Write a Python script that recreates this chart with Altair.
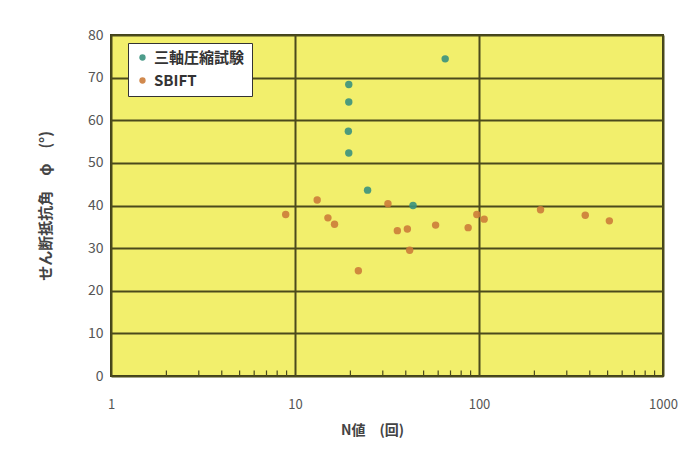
import altair as alt
import pandas as pd

# Triaxial compression test (三軸圧縮試験)
tri_n = [19.6, 19.6, 19.5, 19.6, 24.8, 43.8, 65.5]
tri_phi = [68.4, 64.3, 57.4, 52.3, 43.6, 40.0, 74.4]

# SBIFT
sb_n = [8.9, 13.2, 15.1, 16.4, 22.1, 32.0, 36.0, 40.8, 42.0, 58.1, 87.3, 97.3, 106.7, 216, 378, 511]
sb_phi = [37.9, 41.3, 37.1, 35.6, 24.7, 40.4, 34.1, 34.5, 29.5, 35.4, 34.8, 37.9, 36.8, 39.0, 37.7, 36.4]

series = ["三軸圧縮試験", "SBIFT"]
colors = ["#3a917e", "#cc7c3a"]

x_ticks = [1, 10, 100, 1000]
y_ticks = [0, 10, 20, 30, 40, 50, 60, 70, 80]
minor_ticks = [m * d for d in [1, 10, 100] for m in range(2, 10)]

df = pd.DataFrame({
    "N": tri_n + sb_n,
    "phi": tri_phi + sb_phi,
    "series": [series[0]] * len(tri_n) + [series[1]] * len(sb_n),
})
minor_df = pd.DataFrame({"N": minor_ticks, "y0": 0, "y1": 1.3})

font = "Noto Sans CJK JP"

xscale = alt.Scale(type="log", domain=[1, 1000], nice=False)
yscale = alt.Scale(domain=[0, 80], nice=False)

points = alt.Chart(df).mark_point(filled=True, size=55, opacity=0.9).encode(
    x=alt.X("N:Q", scale=xscale,
            axis=alt.Axis(values=x_ticks, format="d", title="N値　(回)", grid=True,
                          gridColor="#4b4a1c", gridWidth=2, gridOpacity=1,
                          domain=False, ticks=False, labelPadding=22,
                          labelFlush=False,
                          labelFontSize=13, labelColor="#555555",
                          titleFontSize=14, titleColor="#444444", titlePadding=12,
                          titleX=261, titleAnchor="start", titleAlign="center",
                          titleFontWeight="bold", labelFont=font, titleFont=font)),
    y=alt.Y("phi:Q", scale=yscale,
            axis=alt.Axis(values=y_ticks, title="せん断抵抗角　φ　(°)", grid=True,
                          gridColor="#4b4a1c", gridWidth=2, gridOpacity=1,
                          domain=False, ticks=False, labelPadding=8,
                          labelFontSize=14, labelColor="#555555",
                          titleFontSize=15, titleColor="#444444", titlePadding=34,
                          titleFontWeight="bold", labelFont=font, titleFont=font)),
    color=alt.Color("series:N", scale=alt.Scale(domain=series, range=colors),
                    sort=series,
                    legend=alt.Legend(title=None, orient="none", legendX=17, legendY=8,
                                      fillColor="white", strokeColor="#333333",
                                      padding=7, labelFontSize=15, labelFont=font,
                                      labelColor="#333333", symbolSize=40,
                                      rowPadding=7, labelFontWeight="bold",
                                      labelLimit=220)),
)

minor = alt.Chart(minor_df).mark_rule(color="#4b4a1c", strokeWidth=1.2).encode(
    x=alt.X("N:Q", scale=xscale),
    y=alt.Y("y0:Q", scale=yscale),
    y2="y1:Q",
)

chart = alt.layer(minor, points).properties(
    width=552, height=341,
    padding={"left": 103, "top": 27, "right": 17, "bottom": 79},
    autosize=alt.AutoSizeParams(type="none"),
    background="white",
).configure_view(
    fill="#f2ef6c", stroke="#3d3c18", strokeWidth=2
)

chart.save("out.html", embed_options={"renderer": "svg", "actions": False})
